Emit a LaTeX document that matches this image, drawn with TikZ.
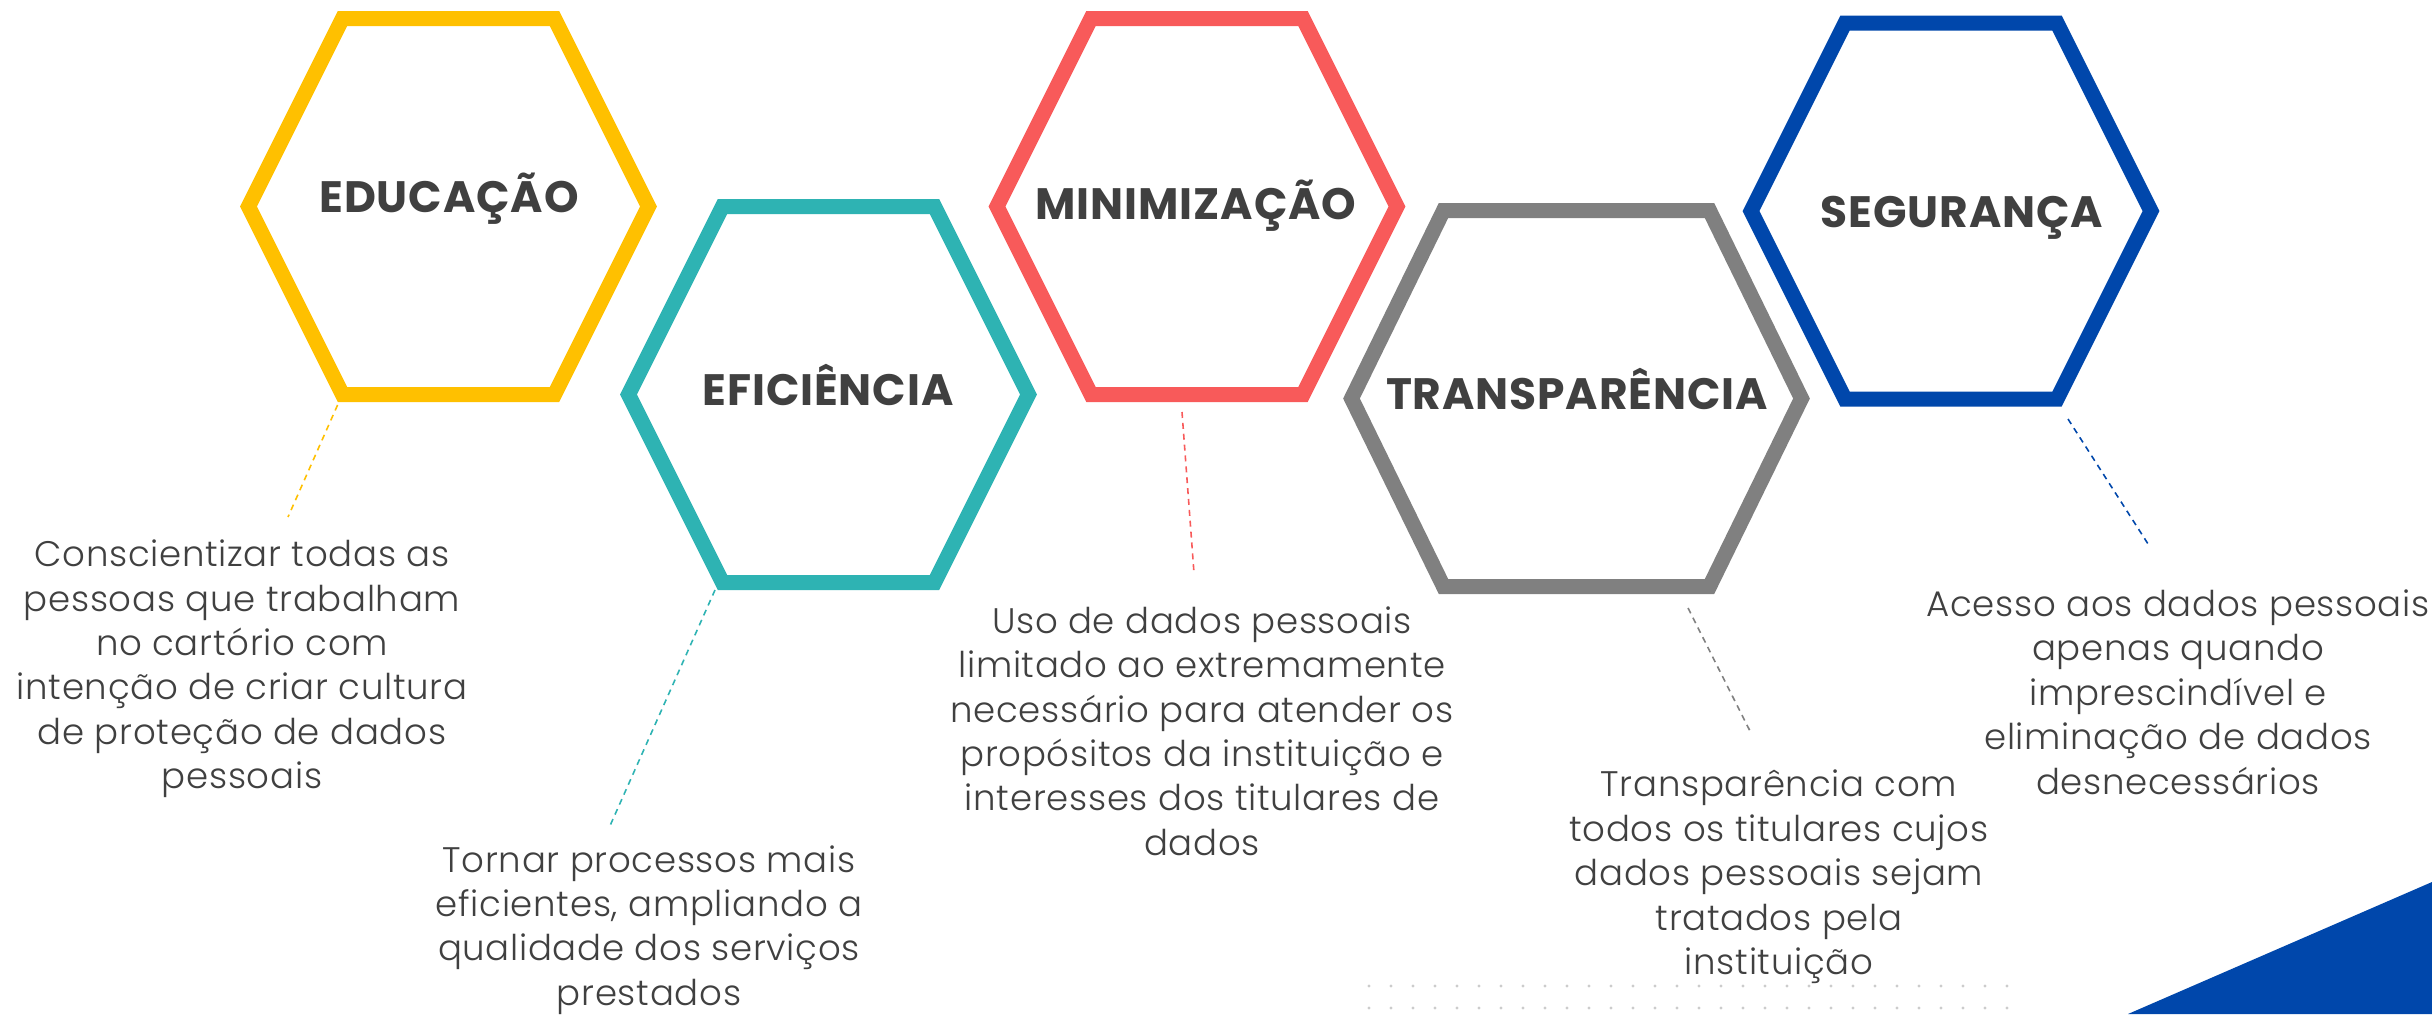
\documentclass[tikz,border=0pt]{standalone}
\usepackage{fontspec}
\setmainfont{Poppins}
\newfontfamily\lightfont[LetterSpace=2]{Poppins Light}
\definecolor{edu}{RGB}{255,192,0}
\definecolor{efi}{RGB}{46,179,179}
\definecolor{mini}{RGB}{248,90,90}
\definecolor{transp}{RGB}{128,128,128}
\definecolor{seg}{RGB}{0,71,171}
\definecolor{txt}{RGB}{64,64,64}
\tikzset{
	hexline/.style={line width=4.27pt, line join=miter},
	title/.style={font=\fontsize{12.5}{14}\selectfont\bfseries\addfontfeatures{LetterSpace=2}, text=txt, inner sep=0pt, anchor=base},
	desc/.style={font=\lightfont\fontsize{10.1}{12.63}\selectfont, text=txt, align=center, inner sep=0pt},
	leader/.style={line width=0.45pt, dash pattern=on 1.7pt off 1.4pt}
}
\begin{document}
\begin{tikzpicture}[x=0.01cm, y=-0.01cm]
\useasboundingbox (0,0) rectangle (2432,1014);
\fill[white] (0,0) rectangle (2432,1014);

\foreach \cx/\cy/\r/\t/\col in {448.5/206.5/200/106/edu, 828.5/394.5/200/106/efi, 1197/206.5/200/106/mini, 1576.5/398.5/225/133/transp, 1951/211/200/106/seg}
	\draw[hexline, \col] (\cx-\r,\cy) -- (\cx-\t,\cy-188) -- (\cx+\t,\cy-188) -- (\cx+\r,\cy) -- (\cx+\t,\cy+188) -- (\cx-\t,\cy+188) -- cycle;

\node[title] (edu-title) at (449,212) {EDUCAÇÃO};
\node[title] (efi-title) at (828,405) {EFICIÊNCIA};
\node[title] (mini-title) at (1196,219) {MINIMIZAÇÃO};
\node[title] (transp-title) at (1577,409) {TRANSPARÊNCIA};
\node[title] (seg-title) at (1962,227) {SEGURANÇA};

\node[desc] (edu-text) at (242,669) {Conscientizar todas as\\pessoas que trabalham\\no cartório com\\intenção de criar cultura\\de proteção de dados\\pessoais};
\node[desc] (efi-text) at (649,930) {Tornar processos mais\\eficientes, ampliando a\\qualidade dos serviços\\prestados};
\node[desc] (mini-text) at (1202,731) {Uso de dados pessoais\\limitado ao extremamente\\necessário para atender os\\propósitos da instituição e\\interesses dos titulares de\\dados};
\node[desc] (transp-text) at (1779,877) {Transparência com\\todos os titulares cujos\\dados pessoais sejam\\tratados pela\\instituição};
\node[desc] (seg-text) at (2178,692) {Acesso aos dados pessoais\\apenas quando\\imprescindível e\\eliminação de dados\\desnecessários};

\coordinate (edu-a) at (342,395);
\coordinate (edu-b) at (288,517);
\coordinate (efi-a) at (715,590);
\coordinate (efi-b) at (609,828);
\coordinate (mini-a) at (1182,412);
\coordinate (mini-b) at (1194,573);
\coordinate (transp-a) at (1688,608);
\coordinate (transp-b) at (1750,731);
\coordinate (seg-a) at (2068,419);
\coordinate (seg-b) at (2150,547);
\draw[leader, edu] (edu-a) -- (edu-b);
\draw[leader, efi] (efi-a) -- (efi-b);
\draw[leader, mini] (mini-a) -- (mini-b);
\draw[leader, transp] (transp-a) -- (transp-b);
\draw[leader, seg] (seg-a) -- (seg-b);

\foreach \x in {0,...,29}
\foreach \y in {986,1008}
	\fill[gray!40] (1369+\x*22,\y) circle (0.45pt);

\fill[seg] (2128,1014) -- (2432,882) -- (2432,1014) -- cycle;
\end{tikzpicture}
\end{document}
